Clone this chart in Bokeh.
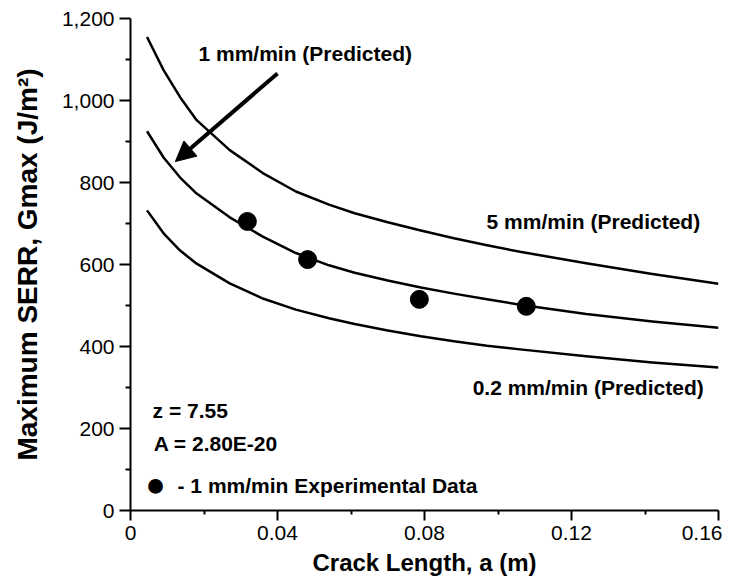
from bokeh.plotting import figure
from bokeh.models import Range1d, Label, Arrow, NormalHead, FixedTicker, NumeralTickFormatter, ColumnDataSource
from bokeh.embed import file_html
from bokeh.resources import INLINE

# ---- data ----
crack_length = [0.0045, 0.009, 0.0135, 0.018, 0.027, 0.036, 0.045, 0.054, 0.061,
                0.070, 0.079, 0.088, 0.097, 0.106, 0.124, 0.142, 0.160]
g_5mm = [1155, 1074, 1008, 952, 879, 823, 778, 746, 725, 703, 683, 664, 647, 631, 603, 577, 553]
g_1mm = [925, 861, 812, 773, 715, 668, 628, 598, 580, 561, 544, 529, 515, 502, 479, 461, 446]
g_02mm = [732, 676, 634, 602, 554, 517, 490, 469, 455, 439, 425, 413, 402, 393, 376, 361, 349]

exp_a = [0.0318, 0.0482, 0.0786, 0.1077]
exp_g = [705, 612, 515, 498]

x_ticks = [0, 0.04, 0.08, 0.12, 0.16]
x_tick_labels = ["0", "0.04", "0.08", "0.12", "0.16"]
x_minor = [0.02, 0.06, 0.10, 0.14]
y_ticks = [0, 200, 400, 600, 800, 1000, 1200]
y_minor = [100, 300, 500, 700, 900, 1100]

FONT = "Liberation Sans"

p = figure(frame_width=588, frame_height=492,
           x_range=Range1d(0, 0.16), y_range=Range1d(0, 1200),
           output_backend="svg", toolbar_location=None,
           min_border_left=130, min_border_top=18, min_border_bottom=66, min_border_right=4)
p.outline_line_color = None
p.xgrid.visible = False
p.ygrid.visible = False
p.background_fill_color = "white"
p.border_fill_color = "white"

curves = ColumnDataSource(dict(a=crack_length, g5=g_5mm, g1=g_1mm, g02=g_02mm))
for col in ["g5", "g1", "g02"]:
    p.line("a", col, source=curves, line_color="black", line_width=2.5, line_join="round")

p.scatter(exp_a, exp_g, size=18, marker="circle", fill_color="black", line_color="black")

# axes
xa = p.xaxis[0]
xa.ticker = FixedTicker(ticks=x_ticks, minor_ticks=x_minor)
xa.major_label_overrides = dict(zip(x_ticks, x_tick_labels))
ya = p.yaxis[0]
ya.ticker = FixedTicker(ticks=y_ticks, minor_ticks=y_minor)
ya.formatter = NumeralTickFormatter(format="0,0")

for ax in (xa, ya):
    ax.axis_line_width = 2
    ax.axis_line_color = "black"
    ax.major_tick_line_width = 2
    ax.minor_tick_line_width = 2
    ax.major_tick_line_color = "black"
    ax.minor_tick_line_color = "black"
    ax.major_tick_in = 0
    ax.minor_tick_in = 0
    ax.major_label_text_font = FONT
    ax.major_label_text_font_size = "21px"
    ax.major_label_text_color = "black"
    ax.axis_label_text_font = FONT
    ax.axis_label_text_font_style = "bold"
    ax.axis_label_text_color = "black"

xa.major_tick_out = 10
xa.minor_tick_out = 4
xa.major_label_standoff = 5
xa.axis_label = "Crack Length, a (m)"
xa.axis_label_text_font_size = "24px"
xa.axis_label_standoff = 6

ya.major_tick_out = 11
ya.minor_tick_out = 5
ya.major_label_standoff = 5
ya.axis_label = "Maximum SERR, Gmax (J/m²)"
ya.axis_label_text_font_size = "28px"
ya.axis_label_standoff = 16

# annotations
def add_label(x, y, text, size="21px"):
    p.add_layout(Label(x=x, y=y, text=text, text_font=FONT, text_font_style="bold",
                       text_font_size=size, text_color="black",
                       text_baseline="middle", text_align="left"))

add_label(0.0185, 1115, "1 mm/min (Predicted)")
add_label(0.0969, 705, "5 mm/min (Predicted)")
add_label(0.0931, 300, "0.2 mm/min (Predicted)")
add_label(0.0060, 244, "z = 7.55")
add_label(0.0063, 163, "A = 2.80E-20")
add_label(0.0040, 64, "●", size="34px")
add_label(0.0128, 61, "- 1 mm/min Experimental Data")

p.add_layout(Arrow(x_start=0.040, y_start=1066, x_end=0.0122, y_end=851,
                   line_color="black", line_width=4,
                   end=NormalHead(size=20, fill_color="black", line_color="black")))

open("out.html", "w").write(file_html(p, INLINE))
